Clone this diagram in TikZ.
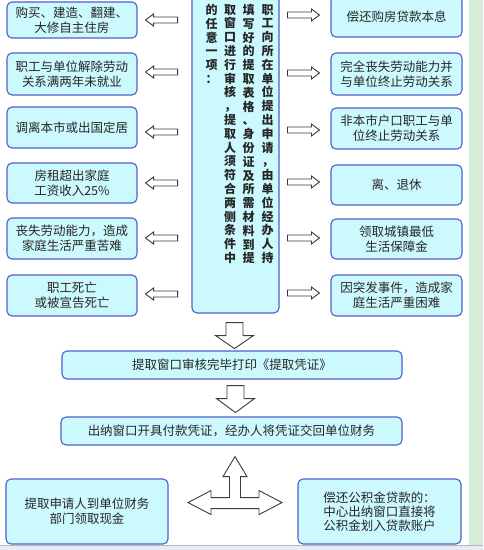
\documentclass[tikz,border=0pt]{standalone}
\usepackage{fontspec}
\setmainfont{Noto Sans CJK SC}
\usetikzlibrary{calc}
\definecolor{boxfill}{HTML}{CCF9FD}
\definecolor{boxline}{HTML}{4F5FCF}
\definecolor{arrline}{HTML}{3C3C3C}
\definecolor{sidegreen}{HTML}{D6ECD6}
\definecolor{footfill}{HTML}{E8EDF3}
\definecolor{footline}{HTML}{AEB9C6}

\begin{document}
\begin{tikzpicture}[x=1pt,y=-1pt,
    cond/.style={draw=boxline,line width=1.1pt,fill=boxfill,rounded corners=5pt,
        align=center,inner sep=0pt,text=black!85,font=\fontsize{12.5}{15}\selectfont},
    hollow/.style={draw=arrline,line width=0.9pt,fill=white,line join=miter},
    vcol/.style={anchor=north,align=center,inner sep=0pt,text=black!85,
        font=\fontsize{12}{13.8}\selectfont\bfseries}]

\useasboundingbox (0,0) rectangle (483,550);
\fill[white] (0,0) rectangle (483,550);
\fill[sidegreen] (469,0) rectangle (483,545);
\fill[footfill] (0,545.5) rectangle (483,550);
\draw[footline] (0,545.5) -- (483,545.5);

% left conditions
\node[cond,minimum width=130,minimum height=36] (L1) at (72,20) {购买、建造、翻建、\\大修自主住房};
\node[cond,minimum width=130,minimum height=42] (L2) at (72,74) {职工与单位解除劳动\\关系满两年未就业};
\node[cond,minimum width=130,minimum height=41] (L3) at (72,127.5) {调离本市或出国定居};
\node[cond,minimum width=130,minimum height=40] (L4) at (72,183) {房租超出家庭\\工资收入25\%};
\node[cond,minimum width=130,minimum height=41] (L5) at (72,238.5) {丧失劳动能力，造成\\家庭生活严重苦难};
\node[cond,minimum width=130,minimum height=41] (L6) at (72,295.5) {职工死亡\\或被宣告死亡};

% right conditions
\node[cond,minimum width=131,minimum height=41] (R1) at (396.5,16.5) {偿还购房贷款本息};
\node[cond,minimum width=131,minimum height=42] (R2) at (396.5,74) {完全丧失劳动能力并\\与单位终止劳动关系};
\node[cond,minimum width=131,minimum height=41] (R3) at (396.5,128.5) {非本市户口职工与单\\位终止劳动关系};
\node[cond,minimum width=131,minimum height=40] (R4) at (396.5,185) {离、退休};
\node[cond,minimum width=131,minimum height=40] (R5) at (396.5,239) {领取城镇最低\\生活保障金};
\node[cond,minimum width=131,minimum height=41] (R6) at (396.5,295.5) {因突发事件，造成家\\庭生活严重困难};

% centre, read in columns from right to left
\node[cond,minimum width=87,minimum height=319] (C) at (235.5,153.5) {};
\node[vcol] (col4) at (267.5,4) {职\\工\\向\\所\\在\\单\\位\\提\\出\\申\\请\\，\\由\\单\\位\\经\\办\\人\\持};
\node[vcol] (col3) at (248.5,4) {填\\写\\好\\的\\提\\取\\表\\格\\、\\身\\份\\证\\及\\所\\需\\材\\料\\到\\提};
\node[vcol] (col2) at (230,4) {取\\窗\\口\\进\\行\\审\\核\\，\\提\\取\\人\\须\\符\\合\\两\\侧\\条\\件\\中};
\node[vcol] (col1) at (211.5,4) {的\\任\\意\\一\\项\\：};

% steps
\node[cond,minimum width=340,minimum height=28] (M1) at (232,365) {提取窗口审核完毕打印《提取凭证》};
\node[cond,minimum width=341,minimum height=28] (M2) at (231.5,431) {出纳窗口开具付款凭证，经办人将凭证交回单位财务};
\node[cond,minimum width=162,minimum height=65] (B1) at (87,511.5) {提取申请人到单位财务\\部门领取现金};
\node[cond,minimum width=163,minimum height=65,font=\fontsize{12.5}{14}\selectfont] (B2) at (379.5,511.5) {偿还公积金贷款的：\\中心出纳窗口直接将\\公积金划入贷款账户};

% hollow arrows
\foreach \i/\d in {1/0,2/-2,3/4.5,4/0,5/-0.5,6/-1.5}
  \draw[hollow] ($(L\i.east)+(8,\d)$) -- ++(8,-6) -- ++(0,3) -- ++(24,0) -- ++(0,6) -- ++(-24,0) -- ++(0,3) -- cycle;
\foreach \i/\d in {1/-1.5,2/-1,3/1.5,4/-3,5/-1,6/-2.5}
  \draw[hollow] ($(R\i.west)+(-11,\d)$) -- ++(-8,-6) -- ++(0,3) -- ++(-24,0) -- ++(0,6) -- ++(24,0) -- ++(0,3) -- cycle;

\draw[hollow] ($(C.south)+(-9.5,9)$) -- ++(17,0) -- ++(0,13) -- ++(10.5,0) -- ++(-19,13) -- ++(-19,-13) -- ++(10.5,0) -- cycle;
\draw[hollow] ($(M1.south)+(-5,6)$) -- ++(17,0) -- ++(0,13) -- ++(10.5,0) -- ++(-19,14) -- ++(-19,-14) -- ++(10.5,0) -- cycle;

\draw[hollow] ($(M2.south)+(3.5,11)$) -- ++(12,20) -- ++(-6.5,0) -- ++(0,21) -- ++(18.5,0) -- ++(0,-7)
  -- ++(23,12) -- ++(-23,12) -- ++(0,-6) -- ++(-48,0) -- ++(0,6) -- ++(-23,-12) -- ++(23,-12)
  -- ++(0,7) -- ++(18.5,0) -- ++(0,-21) -- ++(-6.5,0) -- cycle;
\end{tikzpicture}
\end{document}
